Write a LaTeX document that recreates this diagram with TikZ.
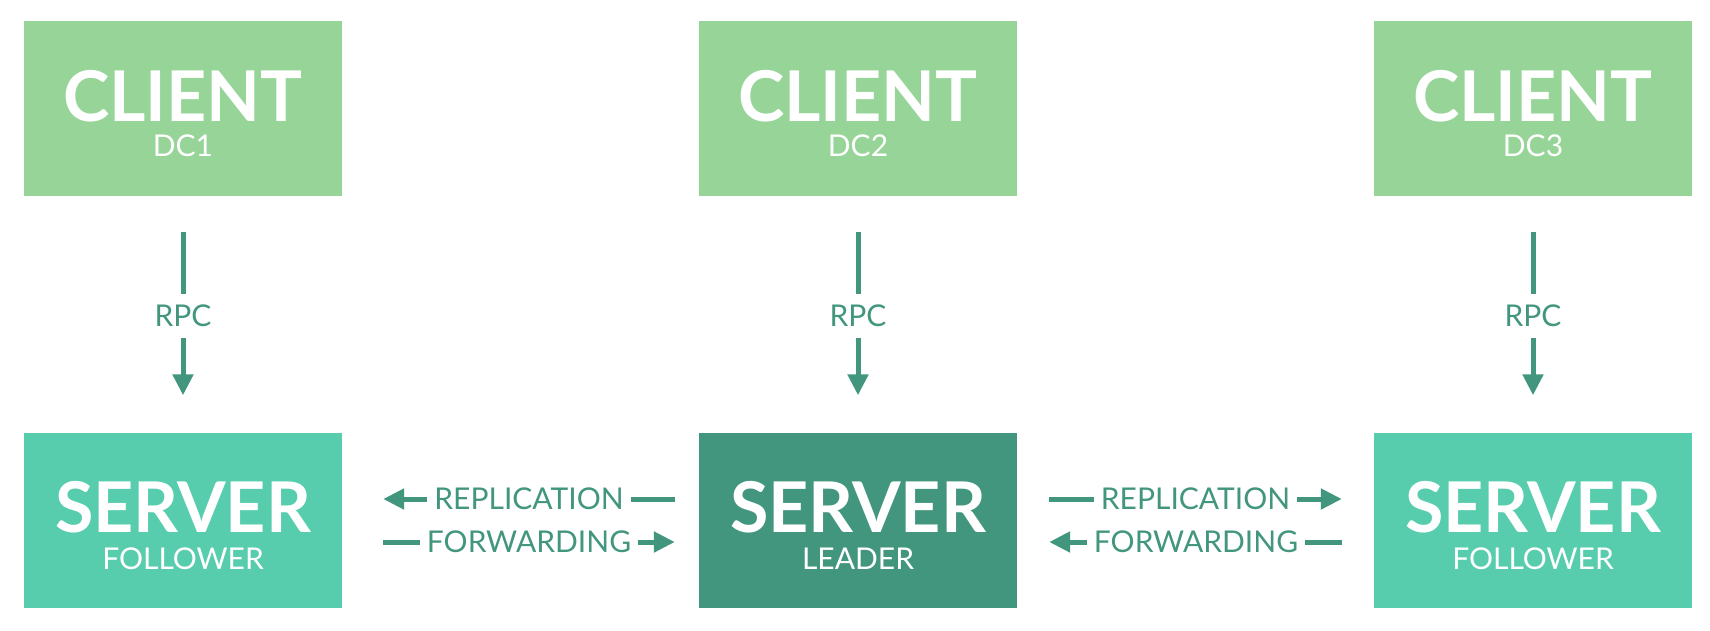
\documentclass[tikz,border=0pt]{standalone}
\usepackage{fontspec}
\setmainfont{Lato}
\usetikzlibrary{positioning,arrows.meta,calc}
\definecolor{clientgreen}{HTML}{97D498}
\definecolor{followerteal}{HTML}{57CDAD}
\definecolor{leaderteal}{HTML}{43967E}
\tikzset{
    every node/.style={inner sep=0pt},
    box/.style={rectangle,minimum width=318pt,minimum height=175pt},
    client/.style={box,fill=clientgreen},
    follower/.style={box,fill=followerteal},
    leader/.style={box,fill=leaderteal},
    boxtitle/.style={anchor=base,text=white,font=\fontsize{70}{70}\selectfont\bfseries,text depth=0pt},
    boxsub/.style={anchor=base,text=white,font=\fontsize{30}{30}\selectfont,text height=21.5pt,text depth=0pt},
    linklabel/.style={text=leaderteal,font=\fontsize{30}{30}\selectfont,text height=21.5pt,text depth=0pt,inner xsep=7pt,inner ysep=11pt},
    link/.style={draw=leaderteal,line width=5pt},
    tip/.style={-{Triangle[length=21pt,width=20pt]}}
}
\begin{document}
\begin{tikzpicture}[x=1pt,y=-1pt]
\useasboundingbox (0,0) rectangle (1710,630);
\node[client] (c1) at (183,108.5) {};
\node[client] (c2) at (858,108.5) {};
\node[client] (c3) at (1533,108.5) {};
\node[follower] (s1) at (183,520) {};
\node[leader] (s2) at (858,520) {};
\node[follower] (s3) at (1533,520) {};

\foreach \i in {1,2,3} {
    \node[boxtitle] (ctitle\i) at ($(c\i.north)+(0,101)$) {CLIENT};
    \node[boxsub] (cdc\i) at ($(c\i.north)+(0,136)$) {DC\i};
    \node[linklabel] (rpc\i) at ($(c\i.south)+(0,119.5)$) {RPC};
    \draw[link,shorten <=36pt] (c\i.south) -- (rpc\i.north);
    \draw[link,tip,shorten >=37pt] (rpc\i.south) -- (s\i.north);
}
\foreach \i/\role in {1/FOLLOWER,2/LEADER,3/FOLLOWER} {
    \node[boxtitle] (stitle\i) at ($(s\i.north)+(0,100)$) {SERVER};
    \node[boxsub] (srole\i) at ($(s\i.north)+(0,137)$) {\role};
}

\node[linklabel] (rep1) at (529,499) {REPLICATION};
\node[linklabel] (fwd1) at (529,542) {FORWARDING};
\node[linklabel] (rep2) at (1195.5,499) {REPLICATION};
\node[linklabel] (fwd2) at (1196,542) {FORWARDING};
\draw[link,tip,shorten >=41pt] (rep1.west) -- (s1.east |- rep1);
\draw[link,shorten >=24pt] (rep1.east) -- (s2.west |- rep1);
\draw[link,shorten <=41pt] (s1.east |- fwd1) -- (fwd1.west);
\draw[link,tip,shorten >=24pt] (fwd1.east) -- (s2.west |- fwd1);
\draw[link,shorten <=32pt] (s2.east |- rep2) -- (rep2.west);
\draw[link,tip,shorten >=32pt] (rep2.east) -- (s3.west |- rep2);
\draw[link,tip,shorten >=32pt] (fwd2.west) -- (s2.east |- fwd2);
\draw[link,shorten >=32pt] (fwd2.east) -- (s3.west |- fwd2);
\end{tikzpicture}
\end{document}
